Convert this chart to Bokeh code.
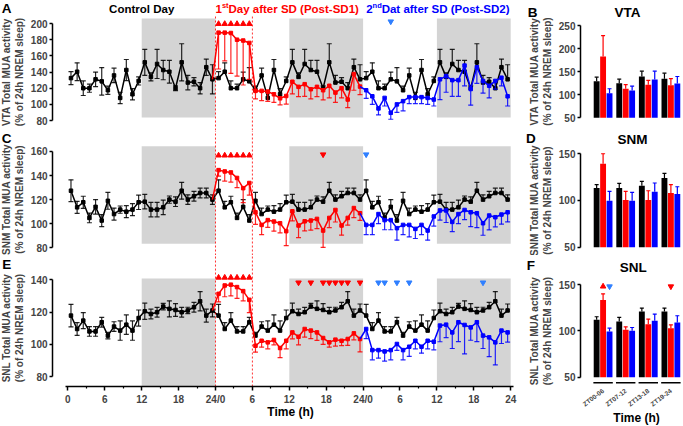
import numpy as np
from bokeh.plotting import figure
from bokeh.layouts import row, column
from bokeh.models import Range1d, FixedTicker, Label
from bokeh.embed import file_html
from bokeh.resources import INLINE

FONT = "Liberation Sans"
BLACK = "#000000"
RED = "#ff0000"
BLUE = "#0000ff"
TRI_BLUE = "#2f7fff"
GRAY = "#d4d4d4"

# ---------------- data ----------------
HOURS = np.arange(0.5, 24.0, 1.0)          # hour-of-day bin centres
DARK_START = [12, 36, 60]
DARK_END = [24, 48, 72]
SD_WINDOW = [24, 30]
XTICKS = [0, 6, 12, 18, 24, 30, 36, 42, 48, 54, 60, 66, 72]
XTICK_LABELS = ["0", "6", "12", "18", "24/0", "6", "12", "18", "24/0", "6", "12", "18", "24"]
XMINOR = [3, 9, 15, 21, 27, 33, 39, 45, 51, 57, 63, 69]

VTA_CTRL = [132.5, 140.4, 120, 120, 131, 128.5, 117.5, 135.8, 108, 142.5, 112.5, 129,
            152, 134, 150, 142.5, 140.4, 120, 152, 127, 128, 120, 146, 131]
VTA_CTRL_ERR = [8, 11, 9, 5, 9, 17, 5, 9, 7, 13, 7, 5, 16, 5, 18, 12, 14, 3, 23, 9, 5, 7, 10, 18]
VTA_SD1 = [188.75, 188.75, 188.3, 180, 179, 176, 116.7, 116.7, 115.8, 112.5, 107.5, 110.4,
           128, 121.7, 125, 118.75, 121.7, 117.5, 123, 114.6, 120, 106, 137.5, 122]
VTA_SD1_ERR = [45, 35, 50, 45, 55, 45, 10, 12, 12, 10, 8, 10, 15, 12, 15, 12, 12, 12, 15, 12, 12, 10, 20, 10]
VTA_SD2 = [117.5, 110, 95, 108, 89.6, 100, 104, 109, 109, 109, 108, 106,
           131, 135, 130, 130, 148, 119, 146, 129, 123, 129, 133, 110]
VTA_SD2_ERR = [10, 10, 8, 10, 8, 10, 12, 8, 8, 8, 8, 8, 25, 20, 20, 20, 25, 20, 20, 15, 15, 10, 10, 12]

SNM_CTRL = [127.4, 113.6, 117.8, 104.8, 114, 102.6, 119, 108, 111.7, 110, 111.7, 117.8,
            118.3, 111.7, 111.7, 113.6, 120, 118.3, 127.4, 120, 122.8, 125.5, 125.5, 120]
SNM_CTRL_ERR = [9, 5, 5, 4, 6, 5, 7, 5, 3, 5, 5, 6, 6, 6, 6, 6, 3, 4, 7, 4, 4, 4, 4, 4]
SNM_SD1 = [144.5, 143.4, 142.6, 138, 129.5, 133.8, 109.5, 99, 103, 101.8, 100.4, 93.8,
           110.3, 98.5, 102, 102.6, 104, 94.3, 104.8, 111.4, 98.5, 104.8, 113, 108.7]
SNM_SD1_ERR = [5, 8, 8, 8, 12, 10, 10, 8, 6, 8, 8, 12, 8, 10, 8, 8, 8, 14, 8, 10, 8, 6, 8, 6]
SNM_SD2 = [99, 99, 108, 103, 103, 96.3, 99, 99, 95.7, 99, 94.3, 106,
           111, 111, 101.5, 108, 111.4, 109.5, 108.7, 100.4, 106.8, 105.4, 107.6, 109.5]
SNM_SD2_ERR = [8, 8, 8, 8, 8, 10, 8, 10, 8, 8, 8, 8, 8, 10, 8, 8, 8, 12, 12, 10, 12, 8, 8, 8]

SNL_CTRL = [117.8, 109.5, 114.7, 108, 108, 113.7, 105.4, 111, 108.5, 112.2, 108.5, 116.3,
            120.5, 118.8, 119.9, 123.4, 122, 121.3, 119.9, 121, 123, 126.7, 117.8, 121]
SNL_CTRL_ERR = [7, 4, 5, 3, 3, 3, 2, 3, 6, 6, 6, 5, 5, 3, 3, 2, 5, 4, 3, 2, 3, 6, 4, 4]
SNL_SD1 = [131.3, 136.5, 137, 135.5, 133, 127.6, 99.1, 102.2, 101.2, 102.7, 97.7, 102.2,
           107.4, 104.7, 109.5, 108.5, 107.4, 103.9, 101.2, 102.9, 102.2, 103.3, 106.8, 103.3]
SNL_SD1_ERR = [5, 7, 7, 7, 6, 8, 4, 4, 4, 3, 6, 5, 4, 5, 5, 5, 5, 4, 3, 4, 3, 4, 4, 8]
SNL_SD2 = [109.5, 96.4, 96.4, 95.6, 96.4, 100.2, 96.4, 98.5, 102.2, 98.5, 102.2, 101.6,
           111.6, 112.2, 107.4, 113.7, 112, 110.5, 113.7, 105.4, 104.3, 101.2, 108.5, 107.4]
SNL_SD2_ERR = [6, 6, 5, 6, 6, 4, 6, 6, 5, 4, 5, 5, 10, 8, 10, 12, 18, 8, 12, 8, 12, 14, 8, 6]

# significance markers (hour positions)
SD_HOURS_MARK = [24.5, 25.5, 26.5, 27.5, 28.5, 29.5]
VTA_SD2_DOWN = [52.5]
SNM_SD1_DOWN = [41.5]
SNM_SD2_DOWN = [48.5]
SNL_SD1_DOWN = [37.5, 39.5, 41.5, 42.5, 43.5, 44.5, 45.5, 47.5]
SNL_SD2_DOWN = [50.5, 51.5, 53.5, 55.5, 67.5]

GROUPS = ["ZT00-06", "ZT07-12", "ZT13-18", "ZT19-24"]
VTA_BAR_CTRL = [129.4, 125, 139.5, 134.5]
VTA_BAR_CTRL_ERR = [8.6, 8.8, 11.5, 12.2]
VTA_BAR_SD1 = [183, 112.8, 121.5, 120.8]
VTA_BAR_SD1_ERR = [45, 9.2, 9.5, 14.2]
VTA_BAR_SD2 = [103.4, 109, 133, 124.4]
VTA_BAR_SD2_ERR = [9.6, 9.6, 18, 15.1]
SNM_BAR_CTRL = [113.3, 113.3, 115.8, 124]
SNM_BAR_CTRL_ERR = [3.7, 5, 4.7, 5.1]
SNM_BAR_SD1 = [139.2, 100.4, 100.4, 107.9]
SNM_BAR_SD1_ERR = [10.8, 9.3, 10, 9.1]
SNM_BAR_SD2 = [99.6, 99.6, 109.4, 106.8]
SNM_BAR_SD2_ERR = [10.1, 9, 9.3, 7.9]
SNL_BAR_CTRL = [112, 110.1, 121, 121]
SNL_BAR_CTRL_ERR = [3.2, 4.4, 3.6, 3.6]
SNL_BAR_SD1 = [133.3, 101.1, 107.2, 102.9]
SNL_BAR_SD1_ERR = [6.6, 3.2, 5.5, 3.6]
SNL_BAR_SD2 = [99.3, 100, 110.9, 109.1]
SNL_BAR_SD2_ERR = [3.6, 3.6, 7.2, 7.2]
BAR_BASE = 50

LW, RW = 522, 161
X_RANGE = (-10.96, 73.92)
Y_AXIS_AT = -2.5
BX_RANGE = (-2.566, 4.558)


def style_y(p, ticks, label, at):
    p.outline_line_color = None
    p.xgrid.visible = False
    p.ygrid.visible = False
    p.background_fill_color = "white"
    p.border_fill_color = "white"
    ax = p.yaxis[0]
    ax.fixed_location = at
    ax.ticker = FixedTicker(ticks=ticks)
    ax.bounds = (ticks[0], ticks[-1])
    ax.axis_line_width = 1.5
    ax.major_tick_line_width = 1.5
    ax.major_tick_out = 3
    ax.major_tick_in = 0
    ax.minor_tick_line_color = None
    ax.major_label_text_font = FONT
    ax.major_label_text_font_style = "bold"
    ax.major_label_text_font_size = "10px"
    ax.major_label_standoff = 2
    ax.axis_label = label
    ax.axis_label_text_font = FONT
    ax.axis_label_text_font_style = "bold"
    ax.axis_label_text_font_size = "10px"
    ax.axis_label_standoff = 3


def txt(p, x, y, text, color=BLACK, size="14px", align="left", x_off=0, y_off=0):
    p.add_layout(Label(x=x, y=y, text=text, text_color=color, text_font=FONT,
                       text_font_style="bold", text_font_size=size, text_align=align,
                       text_baseline="middle", x_offset=x_off, y_offset=y_off))


def errbars(p, x, lo, hi, color, caps_lo=True, caps_hi=True):
    p.segment(x0=x, y0=lo, x1=x, y1=hi, line_color=color, line_width=1.2, line_alpha=0.85)
    if caps_hi:
        p.scatter(x=x, y=hi, marker="dash", size=5, line_color=color, line_width=1.2, line_alpha=0.85)
    if caps_lo:
        p.scatter(x=x, y=lo, marker="dash", size=5, line_color=color, line_width=1.2, line_alpha=0.85)


def new_fig(w, h, xr, yr, show_x):
    return figure(width=w, height=h, x_range=Range1d(*xr), y_range=Range1d(*yr),
                  output_backend="svg", toolbar_location=None,
                  x_axis_location="below" if show_x else None,
                  min_border_left=0, min_border_right=0, min_border_top=0,
                  min_border_bottom=0)


def left_panel(ylabel, ctrl, ctrl_err, sd1, sd1_err, sd2, sd2_err, y_range, y_ticks,
               height, gray_bottom, gray_top, x_axis_at=None):
    p = new_fig(LW, height, X_RANGE, y_range, x_axis_at is not None)
    style_y(p, y_ticks, ylabel, Y_AXIS_AT)
    p.quad(left=DARK_START, right=DARK_END, bottom=gray_bottom, top=gray_top,
           fill_color=GRAY, line_color=None, level="image")

    ctrl = np.array(ctrl, float)
    ctrl_err = np.array(ctrl_err, float)
    sd1 = np.array(sd1, float)
    sd1_err = np.array(sd1_err, float)
    sd2 = np.array(sd2, float)
    sd2_err = np.array(sd2_err, float)

    # control day (both-sided SEM), then control reference repeated on following days
    errbars(p, HOURS, ctrl - ctrl_err, ctrl + ctrl_err, BLACK)
    for d in (24, 48):
        errbars(p, HOURS + d, ctrl, ctrl + ctrl_err, BLACK, caps_lo=False)
    xs_b = np.concatenate([HOURS, HOURS + 24, HOURS + 48])
    ys_b = np.concatenate([ctrl, ctrl, ctrl])
    p.line(xs_b, ys_b, line_color=BLACK, line_width=1.5)
    p.scatter(xs_b, ys_b, marker="square", size=3.5, fill_color=BLACK, line_color=BLACK)

    # post-SD1 (red)
    x1 = HOURS + 24
    errbars(p, x1, sd1 - sd1_err, sd1, RED, caps_hi=False)
    p.line(np.concatenate([[HOURS[-1]], x1]), np.concatenate([[ctrl[-1]], sd1]),
           line_color=RED, line_width=1.5)
    p.scatter(x1, sd1, marker="square", size=3.5, fill_color=RED, line_color=RED)

    # post-SD2 (blue)
    x2 = HOURS + 48
    errbars(p, x2, sd2 - sd2_err, sd2, BLUE, caps_hi=False)
    p.line(np.concatenate([[x1[-1]], x2]), np.concatenate([[sd1[-1]], sd2]),
           line_color=BLUE, line_width=1.5)
    p.scatter(x2, sd2, marker="square", size=3.5, fill_color=BLUE, line_color=BLUE)

    if x_axis_at is not None:
        ax = p.xaxis[0]
        ax.fixed_location = x_axis_at
        ax.ticker = FixedTicker(ticks=XTICKS, minor_ticks=XMINOR)
        ax.major_label_overrides = {t: l for t, l in zip(XTICKS, XTICK_LABELS)}
        ax.bounds = (-0.4, 72.4)
        ax.axis_line_width = 1.5
        ax.major_tick_line_width = 1.5
        ax.major_tick_out = 4
        ax.major_tick_in = 0
        ax.minor_tick_out = 2
        ax.minor_tick_in = 0
        ax.minor_tick_line_width = 1.2
        ax.major_label_text_font = FONT
        ax.major_label_text_font_style = "bold"
        ax.major_label_text_font_size = "10px"
        ax.major_label_standoff = 3
    return p


def marks(p, xs, y, marker, color):
    p.scatter(x=xs, y=[y] * len(xs), marker=marker, size=5.5, fill_color=color, line_color=color)


def sd_lines(p, y0, y1):
    p.segment(x0=SD_WINDOW, y0=[y0] * 2, x1=SD_WINDOW, y1=[y1] * 2,
              line_color=RED, line_dash="2 2", line_width=1, line_alpha=0.8)


# ---------------- left panels ----------------
A_RANGE = (67.7, 228.5)
pA = left_panel("VTA Total MUA activity\n(% of 24h NREM sleep)", VTA_CTRL, VTA_CTRL_ERR,
                VTA_SD1, VTA_SD1_ERR, VTA_SD2, VTA_SD2_ERR, A_RANGE,
                [80, 100, 120, 140, 160, 180, 200], 130, 83.7, 206.2)
sd_lines(pA, A_RANGE[0], 209.9)
marks(pA, SD_HOURS_MARK, 199.6, "triangle", RED)
marks(pA, VTA_SD2_DOWN, 202.5, "inverted_triangle", TRI_BLUE)
TY = 218.6
txt(pA, 12, TY, "Control Day", size="11.5px", align="center")
txt(pA, 24, TY, "1", color=RED, size="11.5px")
txt(pA, 24, TY, "st", color=RED, size="7.5px", x_off=6.4, y_off=3.5)
txt(pA, 24, TY, " Day after SD (Post-SD1)", color=RED, size="11.5px", x_off=13.0)
txt(pA, 48.5, TY, "2", color=BLUE, size="11.5px")
txt(pA, 48.5, TY, "nd", color=BLUE, size="7.5px", x_off=6.4, y_off=3.5)
txt(pA, 48.5, TY, " Dat after SD (Post-SD2)", color=BLUE, size="11.5px", x_off=15.5)
txt(pA, -9.95, 218.6, "A", size="13.5px", align="center")

C_RANGE = (73.6, 177.4)
pC = left_panel("SNM Total MUA activity\n(% of 24h NREM sleep)", SNM_CTRL, SNM_CTRL_ERR,
                SNM_SD1, SNM_SD1_ERR, SNM_SD2, SNM_SD2_ERR, C_RANGE,
                [80, 100, 120, 140, 160], 125, 83.3, 164.4)
sd_lines(pC, C_RANGE[0], C_RANGE[1])
marks(pC, SD_HOURS_MARK, 156.7, "triangle", RED)
marks(pC, SNM_SD1_DOWN, 157.5, "inverted_triangle", RED)
marks(pC, SNM_SD2_DOWN, 157.5, "inverted_triangle", TRI_BLUE)
txt(pC, -9.95, 171.0, "C", size="13.5px", align="center")

E_RANGE = (49.0, 155.1)
E_AXIS = 73.8
pE = left_panel("SNL Total MUA activity\n(% of 24h NREM sleep)", SNL_CTRL, SNL_CTRL_ERR,
                SNL_SD1, SNL_SD1_ERR, SNL_SD2, SNL_SD2_ERR, E_RANGE,
                [80, 100, 120, 140], 171, E_AXIS, 140.8, x_axis_at=E_AXIS)
sd_lines(pE, E_AXIS, E_RANGE[1])
marks(pE, SD_HOURS_MARK, 141.4, "triangle", RED)
marks(pE, SNL_SD1_DOWN, 138.3, "inverted_triangle", RED)
marks(pE, SNL_SD2_DOWN, 138.3, "inverted_triangle", TRI_BLUE)
txt(pE, -9.95, 149.5, "E", size="13.5px", align="center")
txt(pE, 36.2, 57.7, "Time (h)", size="12px", align="center")


# ---------------- bar panels ----------------
def bar_panel(ylabel, title, title_xy, series, y_range, y_ticks, height, x_axis_at=None):
    p = new_fig(RW, height, BX_RANGE, y_range, x_axis_at is not None)
    style_y(p, y_ticks, ylabel, 0)
    g = np.arange(1, len(GROUPS) + 1)
    for (vals, errs, off, col) in series:
        vals = np.array(vals, float)
        errs = np.array(errs, float)
        x = g + off
        p.vbar(x=x, top=vals, bottom=BAR_BASE, width=0.26, fill_color=col, line_color=None)
        p.segment(x0=x, y0=vals, x1=x, y1=vals + errs, line_color=col, line_width=1.2)
        p.scatter(x=x, y=vals + errs, marker="dash", size=4, line_color=col, line_width=1.2)
    txt(p, title_xy[0], title_xy[1], title, size="13.5px", align="center")
    if x_axis_at is not None:
        ax = p.xaxis[0]
        ax.fixed_location = x_axis_at
        ax.ticker = FixedTicker(ticks=list(g))
        ax.major_label_overrides = {int(t): l for t, l in zip(g, GROUPS)}
        ax.major_label_orientation = 0.65
        ax.axis_line_color = None
        ax.major_tick_line_color = None
        ax.minor_tick_line_color = None
        ax.major_label_text_font = FONT
        ax.major_label_text_font_style = "bold"
        ax.major_label_text_font_size = "6.5px"
        ax.major_label_standoff = 2
    return p


def three(c, ce, s1, s1e, s2, s2e):
    return [(c, ce, -0.285, BLACK), (s1, s1e, 0.0, RED), (s2, s2e, 0.285, BLUE)]


pB = bar_panel("VTA Total MUA activity\n(% of 24h NREM sleep)", "VTA", (2.08, 278.2),
               three(VTA_BAR_CTRL, VTA_BAR_CTRL_ERR, VTA_BAR_SD1, VTA_BAR_SD1_ERR,
                     VTA_BAR_SD2, VTA_BAR_SD2_ERR),
               (22.5, 304.2), [50, 100, 150, 200, 250], 130)
txt(pB, -2.12, 278.2, "B", size="13.5px", align="center")

pD = bar_panel("SNM Total MUA activity\n(% of 24h NREM sleep)", "SNM", (2.3, 165.3),
               three(SNM_BAR_CTRL, SNM_BAR_CTRL_ERR, SNM_BAR_SD1, SNM_BAR_SD1_ERR,
                     SNM_BAR_SD2, SNM_BAR_SD2_ERR),
               (41.1, 174.9), [50, 100, 150], 125)
txt(pD, -2.2, 166.3, "D", size="13.5px", align="center")

F_RANGE = (-3.2, 181.3)
pF = bar_panel("SNL Total MUA activity\n(% of 24h NREM sleep)", "SNL", (2.33, 168.0),
               three(SNL_BAR_CTRL, SNL_BAR_CTRL_ERR, SNL_BAR_SD1, SNL_BAR_SD1_ERR,
                     SNL_BAR_SD2, SNL_BAR_SD2_ERR),
               F_RANGE, [50, 100, 150], 171, x_axis_at=45.0)
txt(pF, -2.2, 170.0, "F", size="13.5px", align="center")
gpos = np.arange(1, len(GROUPS) + 1)
pF.segment(x0=gpos - 0.43, y0=[44.0] * 4, x1=gpos + 0.43, y1=[44.0] * 4,
           line_color=BLACK, line_width=1.5)
pF.scatter(x=[1.0], y=[147.9], marker="triangle", size=5.5, fill_color=RED, line_color=RED)
pF.scatter(x=[1.285], y=[147.9], marker="inverted_triangle", size=5.5, fill_color=TRI_BLUE,
           line_color=TRI_BLUE)
pF.scatter(x=[4.0], y=[147.9], marker="inverted_triangle", size=5.5, fill_color=RED,
           line_color=RED)
txt(pF, 2.48, 6.3, "Time (h)", size="12px", align="center")

layout = row(column(pA, pC, pE), column(pB, pD, pF))
open("out.html", "w").write(file_html(layout, INLINE))
